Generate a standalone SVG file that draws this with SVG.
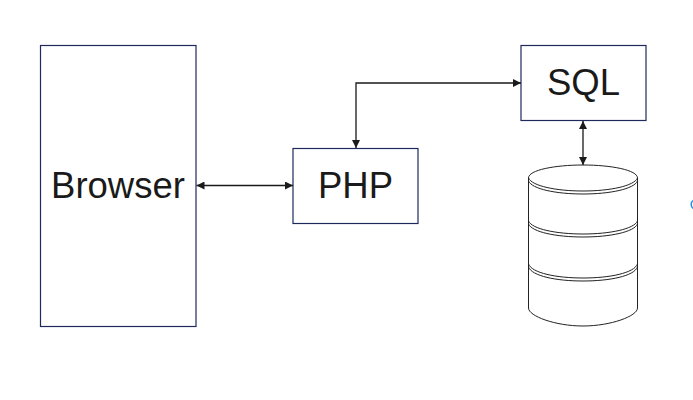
<svg xmlns="http://www.w3.org/2000/svg" width="693" height="400" viewBox="0 0 693 400">
<style>
.box{fill:#fff;stroke:#1f2a5c;stroke-width:1.200}
.lbl{font-family:"Liberation Sans",Arial,sans-serif;font-size:36.500px;fill:#1a1a1a;text-anchor:middle}
.c{fill:none;stroke:#1a1a1a;stroke-width:1.300}
.db{fill:#fff;stroke:#222;stroke-width:1}
.ln{fill:none;stroke:#222;stroke-width:1}
</style>
<defs>
<marker id="a" viewBox="0 0 8 8" refX="8" refY="4" markerWidth="8" markerHeight="8" markerUnits="userSpaceOnUse" orient="auto-start-reverse"><path d="M0 0L8 4L0 8Z" fill="#1a1a1a"/></marker>
</defs>
<rect width="693" height="400" fill="#fff"/>
<g id="browser"><rect class="box" x="40.500" y="45.500" width="155.500" height="281"/><text class="lbl" x="118" y="198">Browser</text></g>
<g id="php"><rect class="box" x="293" y="148.500" width="125" height="75"/><text class="lbl" x="355.500" y="198">PHP</text></g>
<g id="sql"><rect class="box" x="521" y="45.500" width="125" height="75"/><text class="lbl" x="583.500" y="95">SQL</text></g>
<g id="database">
<path class="db" d="M528.500 178C528.500 170 555 165 583 165C611 165 637.500 170 637.500 178V308C637.500 316 611 326 583 326C555 326 528.500 316 528.500 308Z"/>
<path class="ln" d="M528.500 178C532 186 556 191 583 191C610 191 634 186 637.500 178"/>
<path class="ln" d="M528.500 181C532 189 556 194 583 194C610 194 634 189 637.500 181"/>
<path class="ln" d="M528.500 221C532 229 556 234 583 234C610 234 634 229 637.500 221"/>
<path class="ln" d="M528.500 224C532 232 556 237 583 237C610 237 634 232 637.500 224"/>
<path class="ln" d="M528.500 264C532 273 556 278 583 278C610 278 634 273 637.500 264"/>
<path class="ln" d="M528.500 267C532 276 556 281 583 281C610 281 634 276 637.500 267"/>
</g>
<g id="connectors">
<path class="c" d="M196.500 185.500H293" marker-start="url(#a)" marker-end="url(#a)"/>
<path class="c" d="M356 148V83H521" marker-start="url(#a)" marker-end="url(#a)"/>
<path class="c" d="M583 121V165" marker-start="url(#a)" marker-end="url(#a)"/>
</g>
<path d="M694 200a5 5 0 0 0 0 9" fill="none" stroke="#2b8be0" stroke-width="1.500"/>
</svg>
